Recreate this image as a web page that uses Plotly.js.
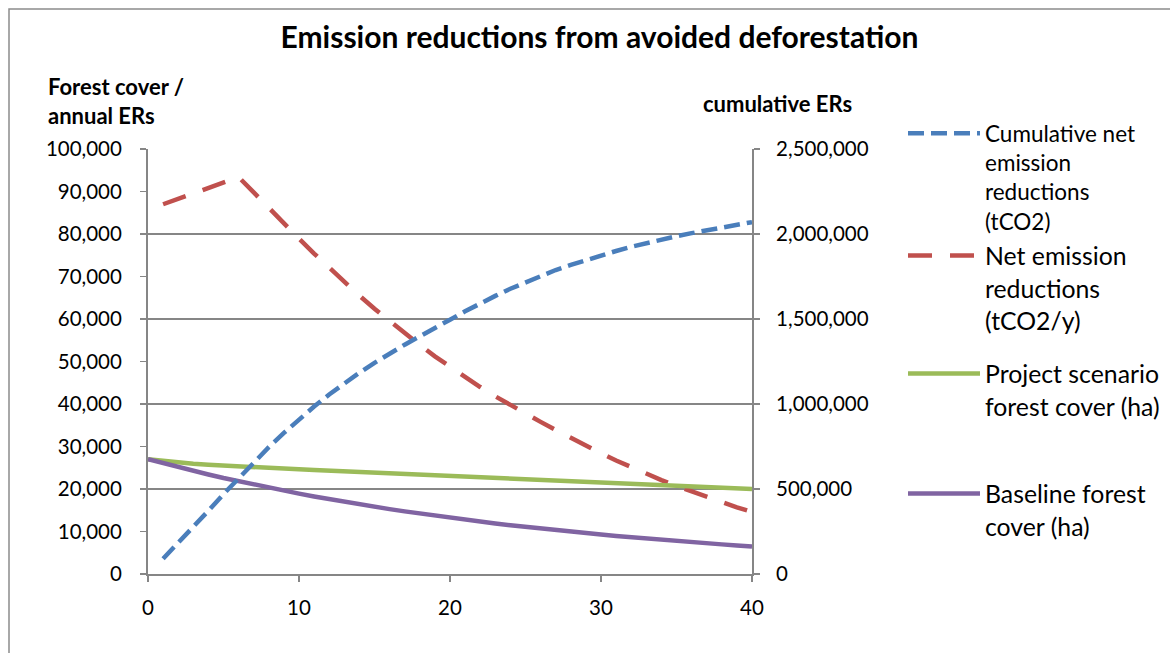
<!DOCTYPE html>
<html>
<head>
<meta charset="utf-8">
<script src="https://cdn.plot.ly/plotly-3.0.1.min.js"></script>
<style>html,body{margin:0;padding:0;background:#fff;}#chart{width:1170px;height:653px;}</style>
</head>
<body>
<div id="chart"></div>
<script>
// ---- data ----
const forestYears = [0,1,2,3,4,5,6,7,8,9,10,11,12,13,14,15,16,17,18,19,20,21,22,23,24,25,26,27,28,29,30,31,32,33,34,35,36,37,38,39,40];
const erYears = [1,2,3,4,5,6,7,8,9,10,11,12,13,14,15,16,17,18,19,20,21,22,23,24,25,26,27,28,29,30,31,32,33,34,35,36,37,38,39,40];

const cumulativeER = [90000,182000,276000,372000,470000,565000,658000,746000,830000,910000,
  985000,1056000,1122000,1184000,1242000,1297000,1349000,1398000,1444000,1496000,
  1545000,1592000,1636000,1678000,1717000,1754000,1788000,1818000,1847000,1874000,
  1900000,1925000,1947000,1967000,1987000,2005000,2022000,2039000,2055000,2070000];

const netER = [87000,88300,89600,90900,92200,93400,89800,86100,82400,78900,
  75400,72000,68700,65500,62400,59500,56600,53900,51200,48700,
  46300,44000,41800,39700,37700,35800,33900,32000,30200,28400,
  26700,25100,23600,22100,20700,19400,18100,16900,15700,14600];

const projectForest = [27000,26600,26250,25950,25700,25480,25300,25120,24950,24780,
  24620,24470,24320,24170,24020,23870,23720,23570,23420,23270,
  23120,22970,22820,22670,22520,22370,22220,22060,21900,21740,
  21580,21420,21260,21100,20940,20780,20620,20460,20300,20150,20000];

const baselineForest = [27000,26055,25143,24263,23414,22594,21803,21040,20304,19593,
  18907,18245,17607,16990,16396,15822,15268,14734,14218,13720,
  13240,12777,12330,11898,11482,11080,10692,10318,9957,9608,
  9272,8947,8634,8332,8040,7759,7487,7225,6972,6728,6493];

const seriesNames = [
  "Cumulative net<br>emission<br>reductions<br>(tCO2)",
  "Net emission<br>reductions<br>(tCO2/y)",
  "Project scenario<br>forest cover (ha)",
  "Baseline forest<br>cover (ha)"
];
const chartTitle = "Emission reductions from avoided deforestation";
const leftAxisTitle = "Forest cover /<br>annual ERs";
const rightAxisTitle = "cumulative ERs";
const xTicks = [0,10,20,30,40];

// ---- chart ----
const FONT = "Lato, 'Open Sans', sans-serif";
const GRID = "#868686";

const traces = [
  {x: erYears, y: cumulativeER, name: seriesNames[0], yaxis: "y2", mode: "lines",
   line: {color: "#4A7EBB", width: 4.5, dash: "16px,7px"}, legend: "legend"},
  {x: erYears, y: netER, name: seriesNames[1], yaxis: "y", mode: "lines",
   line: {color: "#C0504D", width: 4.5, dash: "24px,18px"}, legend: "legend2"},
  {x: forestYears, y: projectForest, name: seriesNames[2], yaxis: "y", mode: "lines",
   line: {color: "#9BBB59", width: 4.5}, legend: "legend3"},
  {x: forestYears, y: baselineForest, name: seriesNames[3], yaxis: "y", mode: "lines",
   line: {color: "#8064A2", width: 4.5}, legend: "legend4"}
];

const L = 148, R = 752, T = 149, B = 574;
const px2x = p => (p - L) / (R - L);
const px2y = p => (B - p) / (B - T);

function legendAt(yTop, size) {
  return {x: px2x(903), xanchor: "left", y: px2y(yTop), yanchor: "top",
    valign: "top", bgcolor: "rgba(0,0,0,0)", borderwidth: 0,
    font: {family: FONT, size: size, color: "#000"}, itemwidth: 72};
}

const layout = {
  width: 1170, height: 653,
  margin: {l: L, r: 1170 - R, t: T, b: 653 - B, pad: 0, autoexpand: false},
  paper_bgcolor: "#fff", plot_bgcolor: "#fff",
  font: {family: FONT, color: "#000", size: 20},
  title: {text: "<b>" + chartTitle + "</b>", font: {family: FONT, size: 30, color: "#000"},
    xref: "container", yref: "container", x: 599.5 / 1170, xanchor: "center",
    y: 1 - 37 / 653, yanchor: "middle"},
  xaxis: {range: [0, 40], tickvals: xTicks, ticktext: xTicks.map(String),
    showgrid: false, zeroline: false, showline: true, linecolor: GRID, linewidth: 2,
    ticks: "outside", ticklen: 6, tickwidth: 1.5, tickcolor: GRID,
    tickfont: {family: FONT, size: 20.5, color: "#000"}, ticklabelstandoff: 8,
    fixedrange: true, automargin: false},
  yaxis: {range: [0, 100000], dtick: 10000, tickformat: ",d",
    showgrid: false, zeroline: false, showline: true, linecolor: GRID, linewidth: 2,
    ticks: "outside", ticklen: 6, tickwidth: 1.5, tickcolor: GRID,
    tickfont: {family: FONT, size: 20.5, color: "#000"}, ticklabelstandoff: 14, automargin: false},
  yaxis2: {range: [0, 2500000], dtick: 500000, tickformat: ",d", overlaying: "y", side: "right",
    showgrid: true, gridcolor: GRID, gridwidth: 2, zeroline: false,
    showline: true, linecolor: GRID, linewidth: 2,
    ticks: "outside", ticklen: 6, tickwidth: 1.5, tickcolor: GRID,
    tickfont: {family: FONT, size: 20.5, color: "#000"}, ticklabelstandoff: 12, automargin: false},
  legend: legendAt(112, 22.5),
  legend2: legendAt(233, 24.8),
  legend3: legendAt(351, 24.8),
  legend4: legendAt(471, 24.8),
  annotations: [
    {text: "<b>" + leftAxisTitle + "</b>", xref: "paper", yref: "paper",
     x: px2x(46), xanchor: "left", y: px2y(101.5), yanchor: "middle", align: "left",
     showarrow: false, font: {family: FONT, size: 22, color: "#000"}},
    {text: "<b>" + rightAxisTitle + "</b>", xref: "paper", yref: "paper",
     x: px2x(854), xanchor: "right", y: px2y(104), yanchor: "middle", align: "right",
     showarrow: false, font: {family: FONT, size: 22, color: "#000"}}
  ],
  shapes: [
    {type: "rect", xref: "paper", yref: "paper", x0: px2x(9), x1: px2x(1400),
     y0: px2y(9), y1: px2y(800), line: {color: "#8C8C8C", width: 1.5}, layer: "below"}
  ],
  showlegend: true
};

Plotly.newPlot("chart", traces, layout, {displayModeBar: false, staticPlot: true});
</script>
</body>
</html>
